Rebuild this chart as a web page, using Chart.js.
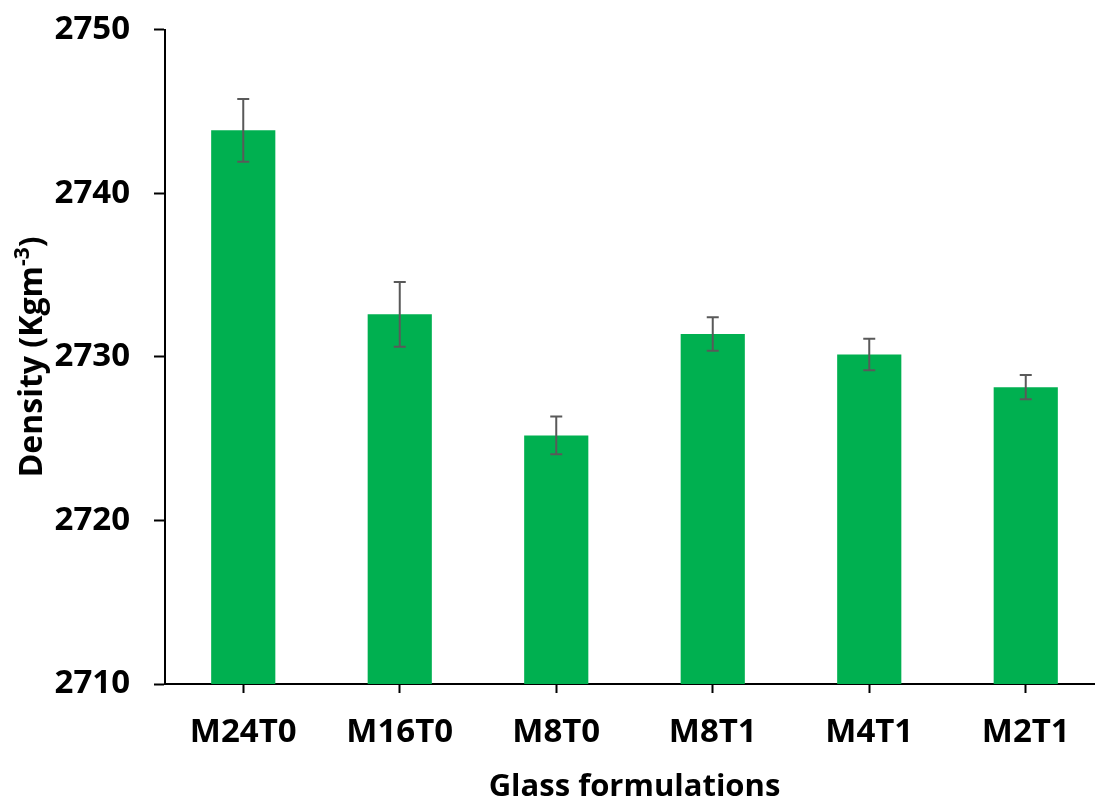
<!DOCTYPE html>
<html>
<head>
<meta charset="utf-8">
<script src="https://cdn.jsdelivr.net/npm/chart.js@4.4.0/dist/chart.umd.min.js"></script>
<style>
    body { margin: 0; background: #fff; overflow: hidden; }
    #wrap { width: 1105px; height: 801px; }
</style>
</head>
<body>
<div id="wrap"><canvas id="densityChart" width="1105" height="801"></canvas></div>
<script>
// glass density data
var formulations = ['M24T0', 'M16T0', 'M8T0', 'M8T1', 'M4T1', 'M2T1'];
var density = [2743.85, 2732.6, 2725.2, 2731.4, 2730.15, 2728.15];
var densityErr = [1.92, 1.98, 1.15, 1.03, 0.96, 0.74];
var yTicks = [2710, 2720, 2730, 2740, 2750];

var FONT = "'Open Sans', 'Liberation Sans', sans-serif";

// error bars drawn on top of the bars
var errorBarPlugin = {
    id: 'errorBars',
    afterDatasetsDraw: function (chart) {
        var ctx = chart.ctx;
        var yScale = chart.scales.y;
        var meta = chart.getDatasetMeta(0);
        ctx.save();
        ctx.strokeStyle = '#595959';
        ctx.lineWidth = 2;
        meta.data.forEach(function (bar, i) {
            var x = bar.x;
            var top = yScale.getPixelForValue(density[i] + densityErr[i]);
            var bot = yScale.getPixelForValue(density[i] - densityErr[i]);
            ctx.beginPath();
            ctx.moveTo(x, top); ctx.lineTo(x, bot);
            ctx.moveTo(x - 6, top); ctx.lineTo(x + 6, top);
            ctx.moveTo(x - 6, bot); ctx.lineTo(x + 6, bot);
            ctx.stroke();
        });
        ctx.restore();
    }
};

// y axis title with a real superscript
var yTitlePlugin = {
    id: 'yTitle',
    afterDraw: function (chart) {
        var ctx = chart.ctx;
        var area = chart.chartArea;
        var main = 'Density (Kgm';
        var sup = '-3';
        var tail = ')';
        ctx.save();
        ctx.fillStyle = '#000';
        ctx.textBaseline = 'alphabetic';
        ctx.font = 'bold 32px ' + FONT;
        var wMain = ctx.measureText(main).width;
        var wTail = ctx.measureText(tail).width;
        ctx.font = 'bold 21px ' + FONT;
        var wSup = ctx.measureText(sup).width;
        var total = wMain + wSup + wTail;
        ctx.translate(42, (area.top + area.bottom) / 2);
        ctx.rotate(-Math.PI / 2);
        var x = -total / 2;
        ctx.font = 'bold 32px ' + FONT;
        ctx.fillText(main, x, 0);
        x += wMain;
        ctx.font = 'bold 21px ' + FONT;
        ctx.fillText(sup, x, -13);
        x += wSup;
        ctx.font = 'bold 32px ' + FONT;
        ctx.fillText(tail, x, 0);
        ctx.restore();
    }
};

const config = {
    type: 'bar',
    data: {
        labels: formulations,
        datasets: [{
            label: 'Density',
            data: density,
            backgroundColor: '#00B050',
            borderWidth: 0,
            barPercentage: 0.41,
            categoryPercentage: 1.0
        }]
    },
    options: {
        responsive: false,
        animation: false,
        layout: { padding: { top: 25, right: 1, left: 0, bottom: 0 } },
        plugins: {
            legend: { display: false },
            tooltip: { enabled: false }
        },
        scales: {
            x: {
                grid: {
                    offset: false,
                    drawOnChartArea: false,
                    drawTicks: true,
                    tickLength: 9,
                    tickColor: '#000',
                    tickWidth: 2
                },
                border: { color: '#000', width: 2 },
                ticks: {
                    color: '#000',
                    padding: 20,
                    font: { family: FONT, size: 33, weight: 'bold' }
                },
                title: {
                    display: true,
                    text: 'Glass formulations',
                    color: '#000',
                    padding: { top: 0, bottom: 0 },
                    font: { family: FONT, size: 31, weight: 'bold', lineHeight: 0.9 }
                },
                afterFit: function (scale) { scale.height = 117; }
            },
            y: {
                min: 2710,
                max: 2750,
                afterBuildTicks: function (scale) {
                    scale.ticks = yTicks.map(function (v) { return { value: v }; });
                },
                grid: {
                    drawOnChartArea: false,
                    drawTicks: true,
                    tickLength: 11,
                    tickColor: '#000',
                    tickWidth: 2
                },
                border: { color: '#000', width: 2 },
                ticks: {
                    color: '#000',
                    padding: 24,
                    font: { family: FONT, size: 33, weight: 'bold', lineHeight: 0.35 },
                    callback: function (value) { return String(value); }
                },
                afterFit: function (scale) { scale.width = 165; }
            }
        }
    },
    plugins: [errorBarPlugin, yTitlePlugin]
};

const densityChart = new Chart(document.getElementById('densityChart'), config);
</script>
</body>
</html>
